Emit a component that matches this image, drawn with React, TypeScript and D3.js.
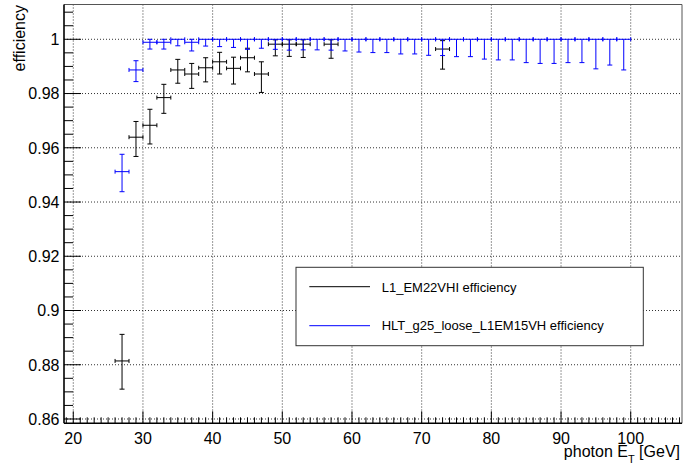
import React from "react";
import * as d3 from "d3";

// Bin centres (GeV) and efficiencies with asymmetric errors
const hltEt = [27, 29, 31, 33, 35, 37, 39, 41, 43, 45, 47, 49, 51, 53, 55, 57, 59, 61, 63, 65, 67, 69, 71, 73, 75, 77, 79, 81, 83, 85, 87, 89, 91, 93, 95, 97, 99];
const hltEff = [0.9512, 0.9887, 0.9989, 0.9989, 1, 0.9989, 1, 1, 1, 1, 1, 1, 1, 1, 1, 1, 1, 1, 1, 1, 1, 1, 1, 1, 1, 1, 1, 1, 1, 1, 1, 1, 1, 1, 1, 1, 1];
const hltErrHigh = [0.0064, 0.0034, 0.0011, 0.0011, 0, 0.0011, 0, 0, 0, 0, 0, 0, 0, 0, 0, 0, 0, 0, 0, 0, 0, 0, 0, 0, 0, 0, 0, 0, 0, 0, 0, 0, 0, 0, 0, 0, 0];
const hltErrLow = [0.0074, 0.0043, 0.0025, 0.0025, 0.0024, 0.0032, 0.0025, 0.0027, 0.003, 0.0037, 0.0033, 0.0037, 0.004, 0.0039, 0.0039, 0.004, 0.0043, 0.0047, 0.0049, 0.0049, 0.0054, 0.0054, 0.0059, 0.006, 0.0064, 0.0064, 0.0073, 0.0076, 0.0076, 0.0086, 0.0089, 0.0089, 0.0086, 0.0086, 0.0109, 0.0095, 0.0113];

const l1Et = [27, 29, 31, 33, 35, 37, 39, 41, 43, 45, 47, 49, 51, 53, 57, 73];
const l1Eff = [0.8814, 0.9639, 0.9683, 0.9785, 0.9887, 0.9872, 0.9895, 0.9917, 0.9893, 0.9932, 0.9872, 0.9982, 0.9982, 0.9982, 0.9982, 0.9964];
const l1ErrHigh = [0.0098, 0.0058, 0.0059, 0.0049, 0.0039, 0.0039, 0.0037, 0.0035, 0.0041, 0.0035, 0.0045, 0.0016, 0.0016, 0.0016, 0.0016, 0.0031];
const l1ErrLow = [0.0104, 0.0071, 0.0069, 0.0058, 0.0049, 0.0053, 0.0052, 0.0045, 0.0058, 0.0052, 0.0068, 0.0043, 0.0045, 0.0049, 0.0052, 0.0074];

const binHalfWidth = 1;

const xTicks = [20, 30, 40, 50, 60, 70, 80, 90, 100];
const yTicks = [0.86, 0.88, 0.9, 0.92, 0.94, 0.96, 0.98, 1];
const yTickLabels = ["0.86", "0.88", "0.9", "0.92", "0.94", "0.96", "0.98", "1"];

const legendLabels = ["L1_EM22VHI efficiency", "HLT_g25_loose_L1EM15VH efficiency"];

const W = 685;
const H = 468;
const left = 64;
const right = 682;
const top = 4.5;
const bottom = 423.3;

const FONT = "'Liberation Sans', Arial, Helvetica, sans-serif";

const x = d3.scaleLinear().domain([18.67, 107.36]).range([left, right]);
const y = d3.scaleLinear().domain([0.85841, 1.01283]).range([bottom, top]);

type Series = { et: number[]; eff: number[]; lo: number[]; hi: number[]; color: string };

function ErrorPoints({ s }: { s: Series }) {
  const capY = 2.5;
  const capX = 2;
  return (
    <g stroke={s.color} strokeWidth={1} fill="none">
      {s.et.map((e, i) => {
        const cx = x(e);
        const cy = y(s.eff[i]);
        const x0 = x(e - binHalfWidth);
        const x1 = x(e + binHalfWidth);
        const yTop = y(s.eff[i] + s.hi[i]);
        const yBot = y(s.eff[i] - s.lo[i]);
        return (
          <g key={i}>
            <line x1={x0} x2={x1} y1={cy} y2={cy} />
            <line x1={x0} x2={x0} y1={cy - capX} y2={cy + capX} />
            <line x1={x1} x2={x1} y1={cy - capX} y2={cy + capX} />
            <line x1={cx} x2={cx} y1={yTop} y2={yBot} />
            {s.hi[i] > 0 && <line x1={cx - capY} x2={cx + capY} y1={yTop} y2={yTop} />}
            {s.lo[i] > 0 && <line x1={cx - capY} x2={cx + capY} y1={yBot} y2={yBot} />}
          </g>
        );
      })}
    </g>
  );
}

export default function App() {
  const xMinor = d3.range(19, 108, 1).filter((v) => v % 10 !== 0);
  const yMinor = d3.range(0.86, 1.0126, 0.005).map((v) => +v.toFixed(3)).filter((v) => Math.round(v * 1000) % 20 !== 0);

  const l1: Series = { et: l1Et, eff: l1Eff, lo: l1ErrLow, hi: l1ErrHigh, color: "#000000" };
  const hlt: Series = { et: hltEt, eff: hltEff, lo: hltErrLow, hi: hltErrHigh, color: "#0000ff" };

  return (
    <svg width={W} height={H} style={{ position: "absolute", left: 0, top: 0, background: "#fff" }} fontFamily={FONT}>
      <rect x={0} y={0} width={W} height={H} fill="#fff" />

      {/* dotted grid */}
      <g stroke="#333" strokeWidth={1} strokeDasharray="1 2">
        {xTicks.map((t) => (
          <line key={"gx" + t} x1={x(t)} x2={x(t)} y1={top} y2={bottom} />
        ))}
        {yTicks.map((t) => (
          <line key={"gy" + t} x1={left} x2={right} y1={y(t)} y2={y(t)} />
        ))}
      </g>

      {/* frame */}
      <line x1={left} x2={right} y1={top} y2={top} stroke="#555" strokeWidth={1} />
      <line x1={right} x2={right} y1={top} y2={bottom} stroke="#555" strokeWidth={1} />

      {/* data */}
      <ErrorPoints s={l1} />
      <ErrorPoints s={hlt} />

      {/* axes */}
      <g stroke="#000" strokeWidth={1}>
        {xTicks.map((t) => (
          <line key={"xt" + t} x1={x(t)} x2={x(t)} y1={bottom} y2={bottom - 12} />
        ))}
        {xMinor.map((t) => (
          <line key={"xm" + t} x1={x(t)} x2={x(t)} y1={bottom} y2={bottom - 6} />
        ))}
        {yTicks.map((t) => (
          <line key={"yt" + t} x1={left} x2={left + 17} y1={y(t)} y2={y(t)} />
        ))}
        {yMinor.map((t) => (
          <line key={"ym" + t} x1={left} x2={left + 9} y1={y(t)} y2={y(t)} />
        ))}
      </g>
      <line x1={left} x2={right} y1={bottom} y2={bottom} stroke="#000" strokeWidth={1.6} />
      <line x1={left} x2={left} y1={top} y2={bottom} stroke="#000" strokeWidth={1.6} />

      {/* tick labels */}
      <g fontSize={16} fill="#000">
        {xTicks.map((t) => (
          <text key={"xl" + t} x={x(t)} y={443.5} textAnchor="middle">
            {t}
          </text>
        ))}
        {yTicks.map((t, i) => (
          <text key={"yl" + t} x={59.5} y={y(t) + 5.8} textAnchor="end">
            {yTickLabels[i]}
          </text>
        ))}
      </g>

      {/* axis titles */}
      <text transform="translate(25,5) rotate(-90)" textAnchor="end" fontSize={16} fill="#000">
        efficiency
      </text>
      <text x={680} y={457} textAnchor="end" fontSize={16} fill="#000">
        photon E
        <tspan fontSize={11} dy={6}>T</tspan>
        <tspan dy={-6}> [GeV]</tspan>
      </text>

      {/* legend */}
      <rect x={296} y={267.3} width={347.3} height={78.4} fill="#fff" stroke="#333" strokeWidth={1} />
      <line x1={309.3} x2={370} y1={286.7} y2={286.7} stroke="#000" strokeWidth={1} />
      <line x1={309.3} x2={370} y1={325.7} y2={325.7} stroke="#0000ff" strokeWidth={1} />
      <g fontSize={13} fill="#000">
        <text x={381.7} y={291.5}>{legendLabels[0]}</text>
        <text x={381.7} y={330.3}>{legendLabels[1]}</text>
      </g>
    </svg>
  );
}
